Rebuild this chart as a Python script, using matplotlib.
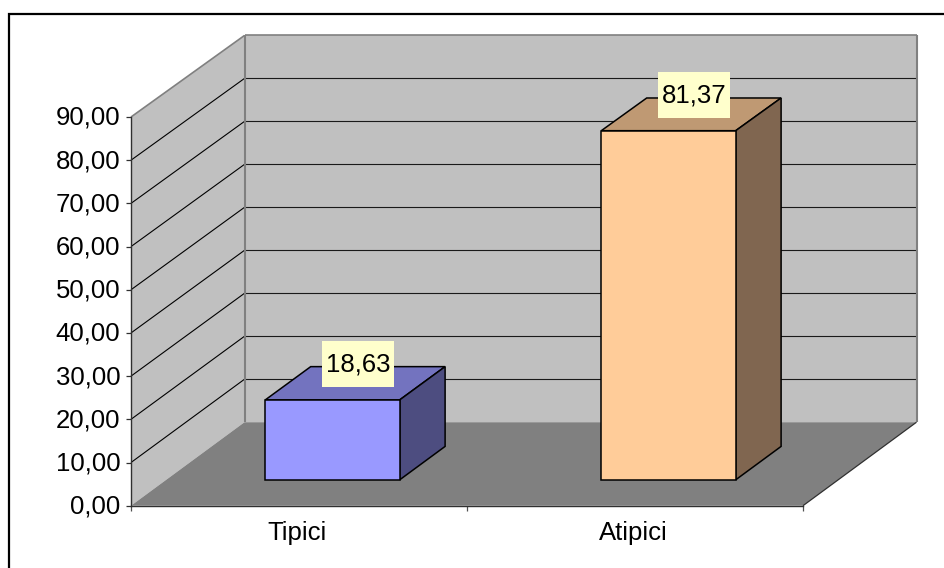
import matplotlib
matplotlib.use("Agg")
import matplotlib.pyplot as plt
from matplotlib.lines import Line2D
from matplotlib.patches import Polygon, Rectangle
from matplotlib.transforms import ScaledTranslation

plt.rcParams['font.family'] = ['Liberation Sans', 'DejaVu Sans']

categories = ['Tipici', 'Atipici']
values = [18.63, 81.37]
value_labels = ['18,63', '81,37']
y_ticks = [0, 10, 20, 30, 40, 50, 60, 70, 80, 90]
y_tick_labels = ['0,00', '10,00', '20,00', '30,00', '40,00', '50,00',
                 '60,00', '70,00', '80,00', '90,00']

front_colors = ['#9999FF', '#FFCC99']
top_colors = ['#7373BF', '#BF9973']
side_colors = ['#4D4D80', '#806650']

W, H = 944, 568
FONT = 18.5
fig = plt.figure(figsize=(W / 100, H / 100), dpi=100, facecolor='white')

# Pixel rectangle of the front plane of the 3D box
L, R, Y0, Y90 = 131.0, 803.0, 505.7, 117.0
ax = fig.add_axes([L / W, 1 - Y0 / H, (R - L) / W, (Y0 - Y90) / H])
ax.set_xlim(0, 2)
ax.set_ylim(0, 90)
ax.patch.set_visible(False)

PX_X = (R - L) / 2
PX_Y = (Y0 - Y90) / 90
DEPTH_X = 113.5 / PX_X
DEPTH_Y = 83.5 / PX_Y


def proj(x, v, d=0.0, shrink=0.995):
    """Oblique projection: category x, value v, depth d (0 front, 1 back)."""
    s = 1 - (1 - shrink) * d
    return x + d * DEPTH_X, v * s + d * DEPTH_Y


def poly(points, face, edge='none', lw=0.0, z=1):
    ax.add_patch(Polygon([proj(*p) for p in points], closed=True, facecolor=face,
                         edgecolor=edge, linewidth=lw, zorder=z, clip_on=False,
                         joinstyle='miter'))


def seg(a, b, color, lw, z):
    pa, pb = proj(*a), proj(*b)
    ax.add_line(Line2D([pa[0], pb[0]], [pa[1], pb[1]], color=color, lw=lw,
                       zorder=z, clip_on=False, solid_capstyle='butt'))


XMAX = len(categories)
VMAX = y_ticks[-1]
WALL = '#C0C0C0'
FLOOR = '#808080'
EDGE = '#808080'

# Walls and floor
poly([(0, 0, 0), (0, VMAX, 0), (0, VMAX, 1), (0, 0, 1)], WALL, z=1)
poly([(0, 0, 1), (0, VMAX, 1), (XMAX, VMAX, 1), (XMAX, 0, 1)], WALL, z=1)
for t in y_ticks[1:-1]:
    seg((0, t, 0), (0, t, 1), '#000000', 0.8, 2)
    seg((0, t, 1), (XMAX, t, 1), '#1a1a1a', 0.8, 2)
seg((0, VMAX, 0), (0, VMAX, 1), EDGE, 1.2, 3)
seg((0, VMAX, 1), (XMAX, VMAX, 1), EDGE, 1.2, 3)
seg((0, 0, 1), (0, VMAX, 1), EDGE, 1.5, 3)
seg((XMAX, 0, 1), (XMAX, VMAX, 1), EDGE, 1.5, 3)
poly([(0, 0, 0), (XMAX, 0, 0), (XMAX, 0, 1), (0, 0, 1)], FLOOR, z=4)
seg((XMAX, 0, 0), (XMAX, 0, 1), '#303030', 0.9, 5)

# Bars
BAR_W = 0.4
BAR_GAP = 0.295
D0, D1 = 0.31, 0.71
BAR_SHRINK = 0.995
BOX_W, BOX_H = 72 / PX_X, 46 / PX_Y
for i, v in enumerate(values):
    x0 = i + BAR_GAP
    x1 = x0 + BAR_W
    h = v * BAR_SHRINK
    z = 6
    kw = dict(edge='#000000', lw=1.1, z=z)
    poly([(x0, h, D0), (x1, h, D0), (x1, h, D1), (x0, h, D1)], top_colors[i], **kw)
    poly([(x1, 0, D0), (x1, h, D0), (x1, h, D1), (x1, 0, D1)], side_colors[i], **kw)
    poly([(x0, 0, D0), (x1, 0, D0), (x1, h, D0), (x0, h, D0)], front_colors[i], **kw)
    # Data label sits above the centre of the bar's top face
    cx, cy = proj((x0 + x1) / 2, h, (D0 + D1) / 2)
    cx += 3 / PX_X
    cy += 19 / PX_Y
    ax.add_patch(Rectangle((cx - BOX_W / 2, cy - BOX_H / 2), BOX_W, BOX_H,
                           facecolor='#FFFFCC', edgecolor='none', zorder=8,
                           clip_on=False))
    ax.text(cx, cy, value_labels[i], ha='center', va='center', fontsize=FONT,
            color='#000000', zorder=9)

# Axes
for s in ('top', 'right'):
    ax.spines[s].set_visible(False)
for s in ('left', 'bottom'):
    ax.spines[s].set_color('#303030')
    ax.spines[s].set_linewidth(1.0)
    ax.spines[s].set_zorder(7)
ax.set_yticks(y_ticks)
ax.set_yticklabels(y_tick_labels, fontsize=FONT, color='#000000')
ax.set_xticks(range(XMAX + 1))
ax.set_xticklabels([])
ax.set_xticks([i + 0.5 for i in range(XMAX)], minor=True)
ax.set_xticklabels(categories, minor=True, fontsize=FONT, color='#000000')
ax.tick_params(axis='y', length=3.8, width=0.9, color='#303030', pad=4)
ax.tick_params(axis='x', which='major', length=3.8, width=0.9, color='#505050')
ax.tick_params(axis='x', which='minor', length=0, pad=11)

# Small nudges of the tick labels, in pixels at 100 dpi
for lab in ax.get_yticklabels():
    lab.set_transform(lab.get_transform() + ScaledTranslation(0, 1.5 / 100, fig.dpi_scale_trans))
for lab in ax.get_xticklabels(minor=True):
    lab.set_transform(lab.get_transform() + ScaledTranslation(-1.5 / 100, 0, fig.dpi_scale_trans))

# Chart frame, running off the right and bottom of the image
fig.add_artist(Rectangle((9 / W, -0.1), 1.1, 1.1 - 14 / H + 0.0,
                         transform=fig.transFigure, facecolor='none',
                         edgecolor='#000000', linewidth=1.6, zorder=0))

fig.savefig('out.png', dpi=100)
